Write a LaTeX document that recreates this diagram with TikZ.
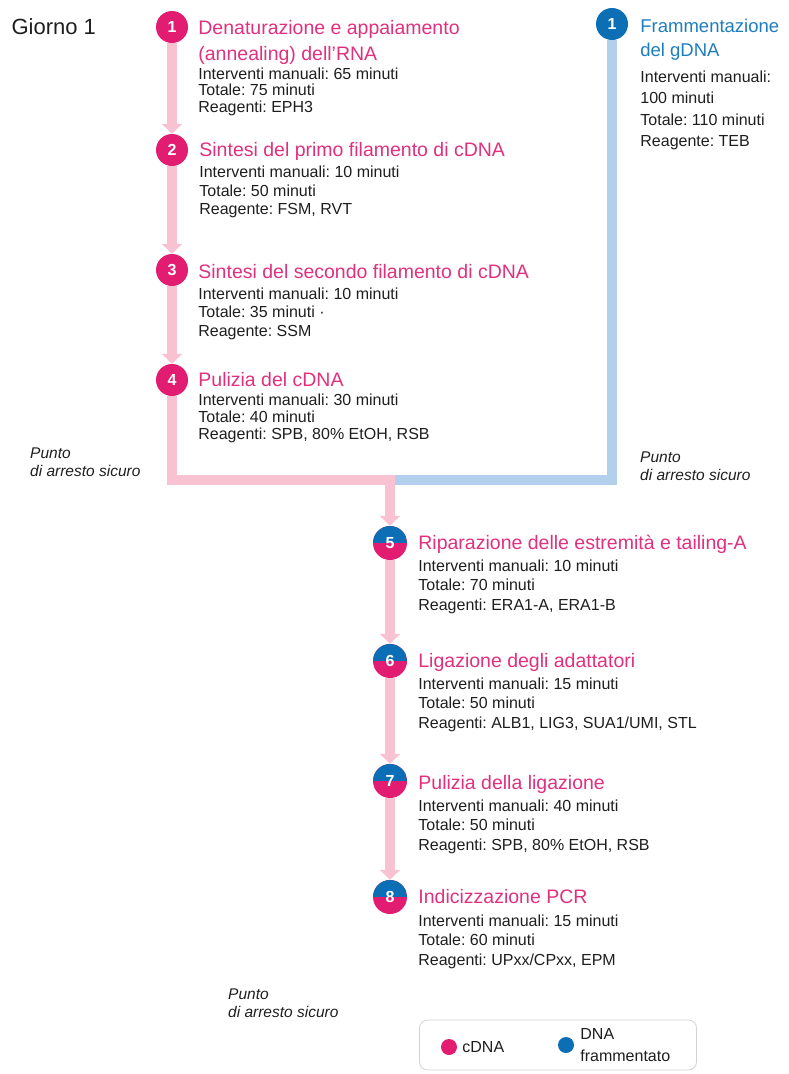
\documentclass[tikz,border=0pt]{standalone}
\usepackage{fontspec}
\setmainfont{Liberation Sans}
\usetikzlibrary{positioning,arrows.meta}
\frenchspacing

\definecolor{cpink}{RGB}{226,28,112}
\definecolor{cblue}{RGB}{12,110,180}
\definecolor{titlepink}{RGB}{224,48,126}
\definecolor{titleblue}{RGB}{30,125,190}
\definecolor{linepink}{RGB}{248,194,210}
\definecolor{lineblue}{RGB}{178,208,236}
\definecolor{textgray}{RGB}{30,30,30}

\begin{document}
\begin{tikzpicture}[x=1pt, y=-1pt,
stepdot/.style={circle, fill=cpink, text=white, font=\fontsize{16}{16}\selectfont\bfseries, minimum size=32pt, inner sep=0pt},
bluedot/.style={stepdot, fill=cblue},
mixdot/.style={stepdot, minimum size=34pt, path picture={\fill[cblue] (path picture bounding box.west) rectangle (path picture bounding box.north east);}},
steptitle/.style={text=titlepink, font=\fontsize{19.5}{26}\selectfont, inner sep=0pt, align=left, text height=17pt, text depth=4pt},
twotitle/.style={steptitle, text height={}, text depth={}},
body/.style={text=textgray, font=\fontsize{16}{#1}\selectfont, inner sep=0pt, align=left},
body/.default=17,
safestop/.style={text=textgray, font=\fontsize{15.5}{18}\selectfont\itshape, inner sep=0pt, align=left},
flow/.style={line width=10pt, draw=linepink},
flowarrow/.style={flow, -{Triangle[width=20pt, length=10pt]}},
keydot/.style={circle, inner sep=0pt, minimum size=16pt}
]
\useasboundingbox (0,0) rectangle (789,1074);

% day label
\node (day) [anchor=west, text=textgray, font=\fontsize{22}{22}\selectfont] at (8,27) {Giorno 1};

% step circles
\node (s1) [stepdot] at (172,27) {1};
\node (s2) [stepdot] at (172,150) {2};
\node (s3) [stepdot] at (172,270) {3};
\node (s4) [stepdot] at (172,380) {4};
\node (b1) [bluedot] at (612,24) {1};
\node (s5) [mixdot] at (390,543) {5};
\node (s6) [mixdot] at (390,661) {6};
\node (s7) [mixdot] at (390,781) {7};
\node (s8) [mixdot] at (390,897) {8};
\coordinate (join) at (390,480);

% connectors
\draw [flow, draw=lineblue] (b1) |- (join);
\draw [flowarrow] (s1) -- (s2);
\draw [flowarrow] (s2) -- (s3);
\draw [flowarrow] (s3) -- (s4);
\draw [flowarrow] (s4) |- (join) -- (s5);
\draw [flowarrow] (s5) -- (s6);
\draw [flowarrow] (s6) -- (s7);
\draw [flowarrow] (s7) -- (s8);

% titles and details
\node (t1) [twotitle, right=10pt of s1, anchor=north west, yshift=7pt] {Denaturazione e appaiamento\\(annealing) dell’RNA};
\node (d1) [body=16.5, below=3pt of t1.south west, anchor=north west] {Interventi manuali: 65 minuti\\Totale: 75 minuti\\Reagenti: EPH3};

\node (t2) [steptitle, right=11pt of s2] {Sintesi del primo filamento di cDNA};
\node (d2) [body=18.5, below=5.5pt of t2.south west, anchor=north west] {Interventi manuali: 10 minuti\\Totale: 50 minuti\\Reagente: FSM, RVT};

\node (t3) [steptitle, right=10pt of s3, yshift=-2pt] {Sintesi del secondo filamento di cDNA};
\node (d3) [body=18.5, below=5pt of t3.south west, anchor=north west] {Interventi manuali: 10 minuti\\Totale: 35 minuti \textperiodcentered\\Reagente: SSM};

\node (t4) [steptitle, right=10pt of s4] {Pulizia del cDNA};
\node (d4) [body=16.5, below=3.5pt of t4.south west, anchor=north west] {Interventi manuali: 30 minuti\\Totale: 40 minuti\\Reagenti: SPB, 80\% EtOH, RSB};

\node (tb1) [twotitle, text=titleblue, font=\fontsize{18.5}{24}\selectfont, right=12pt of b1, anchor=north west, yshift=5pt] {Frammentazione\\del gDNA};
\node (db1) [body=21.5, below=10pt of tb1.south west, anchor=north west] {Interventi manuali:\\100 minuti\\Totale: 110 minuti\\Reagente: TEB};

\node (t5) [steptitle, right=11pt of s5] {Riparazione delle estremità e tailing-A};
\node (d5) [body=19.5, below=5.5pt of t5.south west, anchor=north west] {Interventi manuali: 10 minuti\\Totale: 70 minuti\\Reagenti: ERA1-A, ERA1-B};

\node (t6) [steptitle, right=11pt of s6] {Ligazione degli adattatori};
\node (d6) [body=19.5, below=5.5pt of t6.south west, anchor=north west] {Interventi manuali: 15 minuti\\Totale: 50 minuti\\Reagenti: ALB1, LIG3, SUA1/UMI, STL};

\node (t7) [steptitle, right=11pt of s7, yshift=-2pt] {Pulizia della ligazione};
\node (d7) [body=19.5, below=5.5pt of t7.south west, anchor=north west] {Interventi manuali: 40 minuti\\Totale: 50 minuti\\Reagenti: SPB, 80\% EtOH, RSB};

\node (t8) [steptitle, right=11pt of s8] {Indicizzazione PCR};
\node (d8) [body=19.5, below=6.5pt of t8.south west, anchor=north west] {Interventi manuali: 15 minuti\\Totale: 60 minuti\\Reagenti: UPxx/CPxx, EPM};

% safe stopping points
\node (stop1) [safestop, anchor=west] at (30,462) {Punto\\di arresto sicuro};
\node (stop2) [safestop, anchor=west] at (640,466) {Punto\\di arresto sicuro};
\node (stop3) [safestop, anchor=west] at (228,1003) {Punto\\di arresto sicuro};

% legend
\node (legend) [draw=gray!35, line width=0.8pt, rounded corners=8pt, minimum width=277pt, minimum height=50pt] at (558,1045) {};
\node (keypink) [keydot, fill=cpink] at (449,1047) {};
\node (keypinktext) [body, right=5pt of keypink] {cDNA};
\node (keyblue) [keydot, fill=cblue] at (566,1045) {};
\node (keybluetext) [body=22, right=6pt of keyblue] {DNA\\frammentato};
\end{tikzpicture}
\end{document}
